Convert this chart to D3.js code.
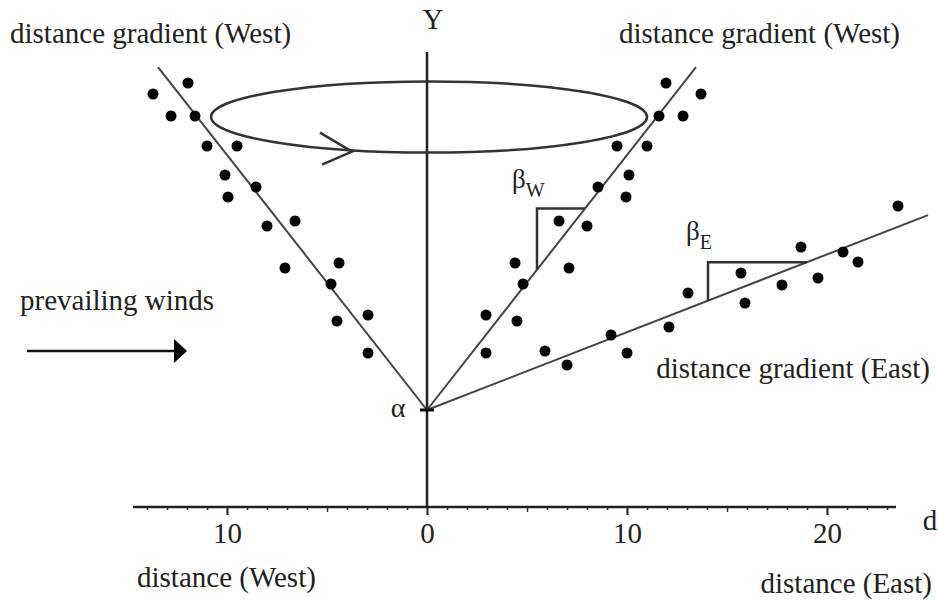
<!DOCTYPE html>
<html>
<head>
<meta charset="utf-8">
<script src="https://cdn.jsdelivr.net/npm/d3@7"></script>
<style>
  body { margin: 0; background: #fff; }
  svg text { font-family: "Liberation Serif", "Times New Roman", serif; fill: #222; }
</style>
</head>
<body>
<svg id="chart" width="938" height="602"></svg>
<script>
"use strict";

// distance (either side) and Y of the west observations, mirrored onto the east side
const westDist = [13.7, 11.95, 12.8, 11.6, 11.0, 9.5, 10.1, 8.55, 9.95, 8.0, 6.6, 7.1, 4.4, 4.8, 4.5, 2.95, 2.95];
const westY    = [20.65, 21.2, 19.55, 19.55, 18.05, 18.05, 16.6, 16.0, 15.5, 14.05, 14.3, 11.95, 12.2, 11.15, 9.3, 9.6, 7.7];

// east observations
const eastDist = [5.9, 7.0, 9.2, 10.0, 12.1, 13.05, 15.9, 15.7, 17.75, 19.55, 18.7, 20.8, 21.55, 23.55];
const eastY    = [7.8, 7.1, 8.6, 7.7, 9.0, 10.7, 10.2, 11.7, 11.1, 11.45, 13.0, 12.75, 12.25, 15.05];

// fitted gradients: intercept alpha and slopes
const alpha = 4.85;
const betaW = 1.275;
const betaE = 0.389;
const westLineEnd = 13.45;
const eastLineEnd = 25.05;

// slope triangles [from, to] in distance
const triW = [5.5, 7.9];
const triE = [14.05, 19.0];

// rotation ellipse around Y axis
const ellipseY = 19.5;
const ellipseRx = 10.9;
const ellipseRy = 1.78;

const majorTicks = [-10, 0, 10, 20];

const svg = d3.select("#chart");

const x = d3.scaleLinear().domain([-14.7, 23.45]).range([133, 896]);
const y = d3.scaleLinear().domain([0, 22.75]).range([507, 52]);

// ---- axes ----
let minorTicks = d3.range(-14, 24).filter(d => d % 5 !== 0);
let midTicks = d3.range(-10, 24, 5).filter(d => d % 10 !== 0);

svg.append("g")
    .attr("transform", `translate(0,${y(0)})`)
    .call(d3.axisBottom(x).tickValues(minorTicks).tickSize(3).tickFormat(""))
    .call(g => g.select(".domain").remove())
    .call(g => g.selectAll("line").attr("stroke", "#333").attr("stroke-width", 1.5));

svg.append("g")
    .attr("transform", `translate(0,${y(0)})`)
    .call(d3.axisBottom(x).tickValues(midTicks).tickSize(5).tickFormat(""))
    .call(g => g.select(".domain").remove())
    .call(g => g.selectAll("line").attr("stroke", "#333").attr("stroke-width", 1.5));

let xAxis = svg.append("g")
    .attr("transform", `translate(0,${y(0)})`)
    .call(d3.axisBottom(x).tickValues(majorTicks).tickSize(8).tickPadding(7)
        .tickFormat(d => Math.abs(d)));

xAxis.select(".domain")
    .attr("d", `M${x.range()[0]},0H${x.range()[1]}`)
    .attr("stroke", "#222")
    .attr("stroke-width", 2.5);
xAxis.selectAll("line").attr("stroke", "#222").attr("stroke-width", 2);
xAxis.selectAll("text")
    .style("font-family", "'Liberation Serif', serif")
    .style("font-size", "29px")
    .attr("fill", "#222");

// Y axis
svg.append("line")
    .attr("x1", x(0)).attr("x2", x(0))
    .attr("y1", y(y.domain()[1])).attr("y2", y(0))
    .attr("stroke", "#222")
    .attr("stroke-width", 2.5);

// ---- gradient lines ----
let gradLine = d3.line().x(d => x(d[0])).y(d => y(d[1]));

let lines = [
    [[0, alpha], [-westLineEnd, alpha + betaW * westLineEnd]],
    [[0, alpha], [westLineEnd, alpha + betaW * westLineEnd]],
    [[0, alpha], [eastLineEnd, alpha + betaE * eastLineEnd]]
];

svg.selectAll(".grad")
    .data(lines)
    .enter().append("path")
    .attr("class", "grad")
    .attr("d", gradLine)
    .attr("fill", "none")
    .attr("stroke", "#444")
    .attr("stroke-width", 2);

// alpha marker
svg.append("line")
    .attr("x1", x(0) - 7).attr("x2", x(0) + 7)
    .attr("y1", y(alpha)).attr("y2", y(alpha))
    .attr("stroke", "#111")
    .attr("stroke-width", 3);

// ---- slope triangles ----
function triangle(from, to, slope) {
    let yTop = alpha + slope * to;
    return [[from, alpha + slope * from], [from, yTop], [to, yTop]];
}

svg.selectAll(".tri")
    .data([triangle(triW[0], triW[1], betaW), triangle(triE[0], triE[1], betaE)])
    .enter().append("path")
    .attr("class", "tri")
    .attr("d", gradLine)
    .attr("fill", "none")
    .attr("stroke", "#333")
    .attr("stroke-width", 2.5);

// ---- points ----
let westPts = westDist.map((d, i) => [d, westY[i]]);
let pts = westPts.map(p => [-p[0], p[1]])
    .concat(westPts)
    .concat(eastDist.map((d, i) => [d, eastY[i]]));

svg.selectAll(".pt")
    .data(pts)
    .enter().append("circle")
    .attr("class", "pt")
    .attr("cx", d => x(d[0]))
    .attr("cy", d => y(d[1]))
    .attr("r", 5.5)
    .attr("fill", "#000");

// ---- rotation ellipse ----
let ecx = x(0) + 2;
let ecy = y(ellipseY);
svg.append("ellipse")
    .attr("cx", ecx)
    .attr("cy", ecy)
    .attr("rx", x(ellipseRx) - x(0))
    .attr("ry", y(0) - y(ellipseRy))
    .attr("fill", "none")
    .attr("stroke", "#333")
    .attr("stroke-width", 2.5);

// open arrowhead on the lower side of the ellipse
let tipX = 352;
let tipY = ecy + (y(0) - y(ellipseRy)) - 1;
svg.append("path")
    .attr("d", `M${tipX - 32},${tipY - 19}L${tipX},${tipY}L${tipX - 30},${tipY + 13}`)
    .attr("fill", "none")
    .attr("stroke", "#333")
    .attr("stroke-width", 2.5);

// ---- prevailing winds arrow ----
svg.append("line")
    .attr("x1", 27).attr("x2", 176)
    .attr("y1", 351).attr("y2", 351)
    .attr("stroke", "#111")
    .attr("stroke-width", 2.5);
svg.append("path")
    .attr("d", "M174,339L187,351L174,363Z")
    .attr("fill", "#000");

// ---- labels ----
let labels = [
    { text: "distance gradient (West)", x: 10, y: 43, anchor: "start" },
    { text: "distance gradient (West)", x: 900, y: 43, anchor: "end" },
    { text: "Y", x: 433, y: 29, anchor: "middle" },
    { text: "prevailing winds", x: 20, y: 310, anchor: "start" },
    { text: "distance gradient (East)", x: 930, y: 378, anchor: "end" },
    { text: "d", x: 930, y: 530, anchor: "middle" },
    { text: "distance (West)", x: 137, y: 587, anchor: "start" },
    { text: "distance (East)", x: 932, y: 593, anchor: "end" }
];

svg.selectAll(".lbl")
    .data(labels)
    .enter().append("text")
    .attr("class", "lbl")
    .attr("x", d => d.x)
    .attr("y", d => d.y)
    .attr("text-anchor", d => d.anchor)
    .style("font-size", "29px")
    .text(d => d.text);

svg.append("text")
    .attr("x", 398).attr("y", 417)
    .attr("text-anchor", "middle")
    .style("font-size", "28px")
    .text("α");

// beta labels with subscripts
function betaLabel(px, py, sub) {
    let t = svg.append("text")
        .attr("x", px).attr("y", py)
        .style("font-size", "27px");
    t.append("tspan").text("β");
    t.append("tspan")
        .attr("dy", 9)
        .style("font-size", "20px")
        .text(sub);
}
betaLabel(512, 188, "W");
betaLabel(686, 240, "E");
</script>
</body>
</html>
